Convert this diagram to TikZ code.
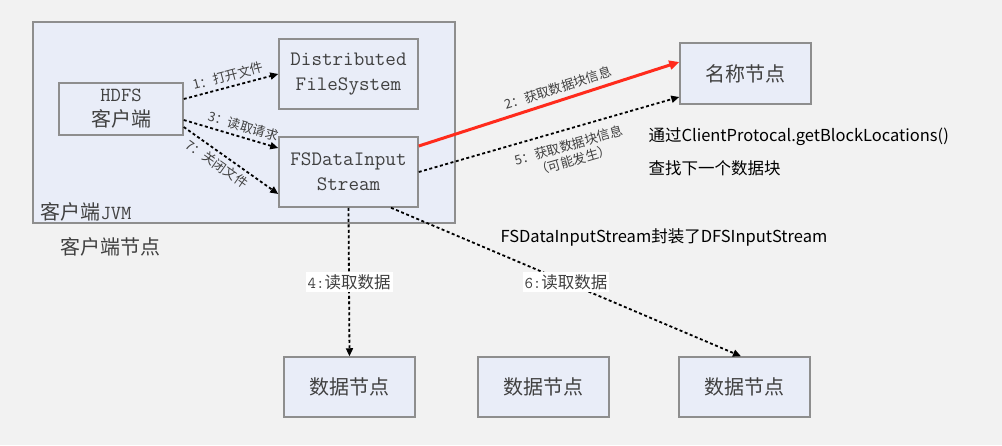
\documentclass[tikz,border=0pt]{standalone}
\usepackage{fontspec}
\newfontfamily\zh{Noto Sans CJK SC}
\usetikzlibrary{arrows.meta}
\definecolor{bg}{HTML}{F2F2F2}
\definecolor{boxfill}{HTML}{E9EDF8}
\definecolor{boxline}{HTML}{8E8E8E}
\definecolor{txt}{HTML}{404040}
\definecolor{redline}{HTML}{FF2B1C}
\begin{document}
\begin{tikzpicture}[x=1pt,y=-1pt,
        box/.style={draw=boxline,fill=boxfill,line width=1.5pt,inner sep=0pt,text=txt,align=center},
        link/.style={line width=1.8pt,dash pattern=on 3pt off 2.5pt,-{Triangle[length=8pt,width=7pt]}},
        lbl/.style={text=txt,inner sep=1pt,font=\zh\fontsize{13}{15.5}\selectfont}]
        \fill[bg] (0,0) rectangle (1002,445);
        \node[box,minimum width=422pt,minimum height=201pt] (jvm) at (244,122.5) {};
        \node[box,minimum width=124pt,minimum height=52pt,font=\fontsize{20}{25}\selectfont] (hdfs) at (121,109) {\ttfamily HDFS\\\zh 客户端};
        \node[box,minimum width=139pt,minimum height=70pt,font=\ttfamily\fontsize{20.5}{25}\selectfont] (dfs) at (348.5,74) {Distributed\\FileSystem};
        \node[box,minimum width=139pt,minimum height=70pt,font=\ttfamily\fontsize{20.5}{25}\selectfont] (fs) at (348.5,172) {FSDataInput\\Stream};
        \node[box,minimum width=131pt,minimum height=61pt,font=\zh\fontsize{20}{24}\selectfont] (name) at (745.5,73.5) {名称节点};
        \node[box,minimum width=131pt,minimum height=60pt,font=\zh\fontsize{20}{24}\selectfont] (d1) at (349.5,387) {数据节点};
        \node[box,minimum width=131pt,minimum height=60pt,font=\zh\fontsize{20}{24}\selectfont] (d2) at (543.5,387) {数据节点};
        \node[box,minimum width=131pt,minimum height=60pt,font=\zh\fontsize{20}{24}\selectfont] (d3) at (744.5,387) {数据节点};
        \node[text=txt,anchor=west,font=\fontsize{20}{24}\selectfont] (jvmname) at (37,212) {{\zh 客户端}\ttfamily JVM};
        \node[text=txt,font=\zh\fontsize{20}{24}\selectfont] (client) at (110,247) {客户端节点};
        \node[anchor=west,font=\zh\fontsize{16.5}{20}\selectfont] (note1) at (645,137) {通过ClientProtocal.getBlockLocations()};
        \node[anchor=west,font=\zh\fontsize{16.5}{20}\selectfont] (note2) at (645,168) {查找下一个数据块};
        \node[anchor=west,font=\zh\fontsize{16.5}{20}\selectfont] (note3) at (497,237) {FSDataInputStream封装了DFSInputStream};
        % client side calls
        \draw[link] ([yshift=10pt]hdfs.east) -- node[lbl,sloped,above=3pt] {1：打开文件} (dfs.west);
        \draw[link] ([yshift=-11pt]hdfs.east) -- node[lbl,sloped,above=3pt,pos=0.6] {3：读取请求} ([yshift=24pt]fs.west);
        \draw[link] ([yshift=-18pt]hdfs.east) -- node[lbl,sloped,below=3pt,pos=0.42] {7：关闭文件} ([yshift=-22pt]fs.west);
        % name node
        \draw[redline,line width=3pt,-{Triangle[length=10pt,width=9pt]}] ([yshift=26pt]fs.east) -- node[lbl,sloped,above=4pt,pos=0.55] {2：获取数据块信息} ([yshift=11.5pt]name.west);
        \draw[link] (fs.east) -- node[lbl,sloped,below=8pt,align=center,pos=0.56] {5：获取数据块信息\\（可能发生）} ([yshift=-23.5pt]name.west);
        % data nodes
        \draw[link] (fs.south) -- node[lbl,inner sep=2pt,fill=white,font=\zh\fontsize{16.5}{18}\selectfont] {{\ttfamily 4:}读取数据} (d1.north);
        \draw[link] ([xshift=42.5pt]fs.south) -- node[lbl,inner sep=2pt,fill=white,font=\zh\fontsize{16.5}{18}\selectfont] {{\ttfamily 6:}读取数据} ([xshift=-3.5pt]d3.north);
    \end{tikzpicture}
\end{document}
